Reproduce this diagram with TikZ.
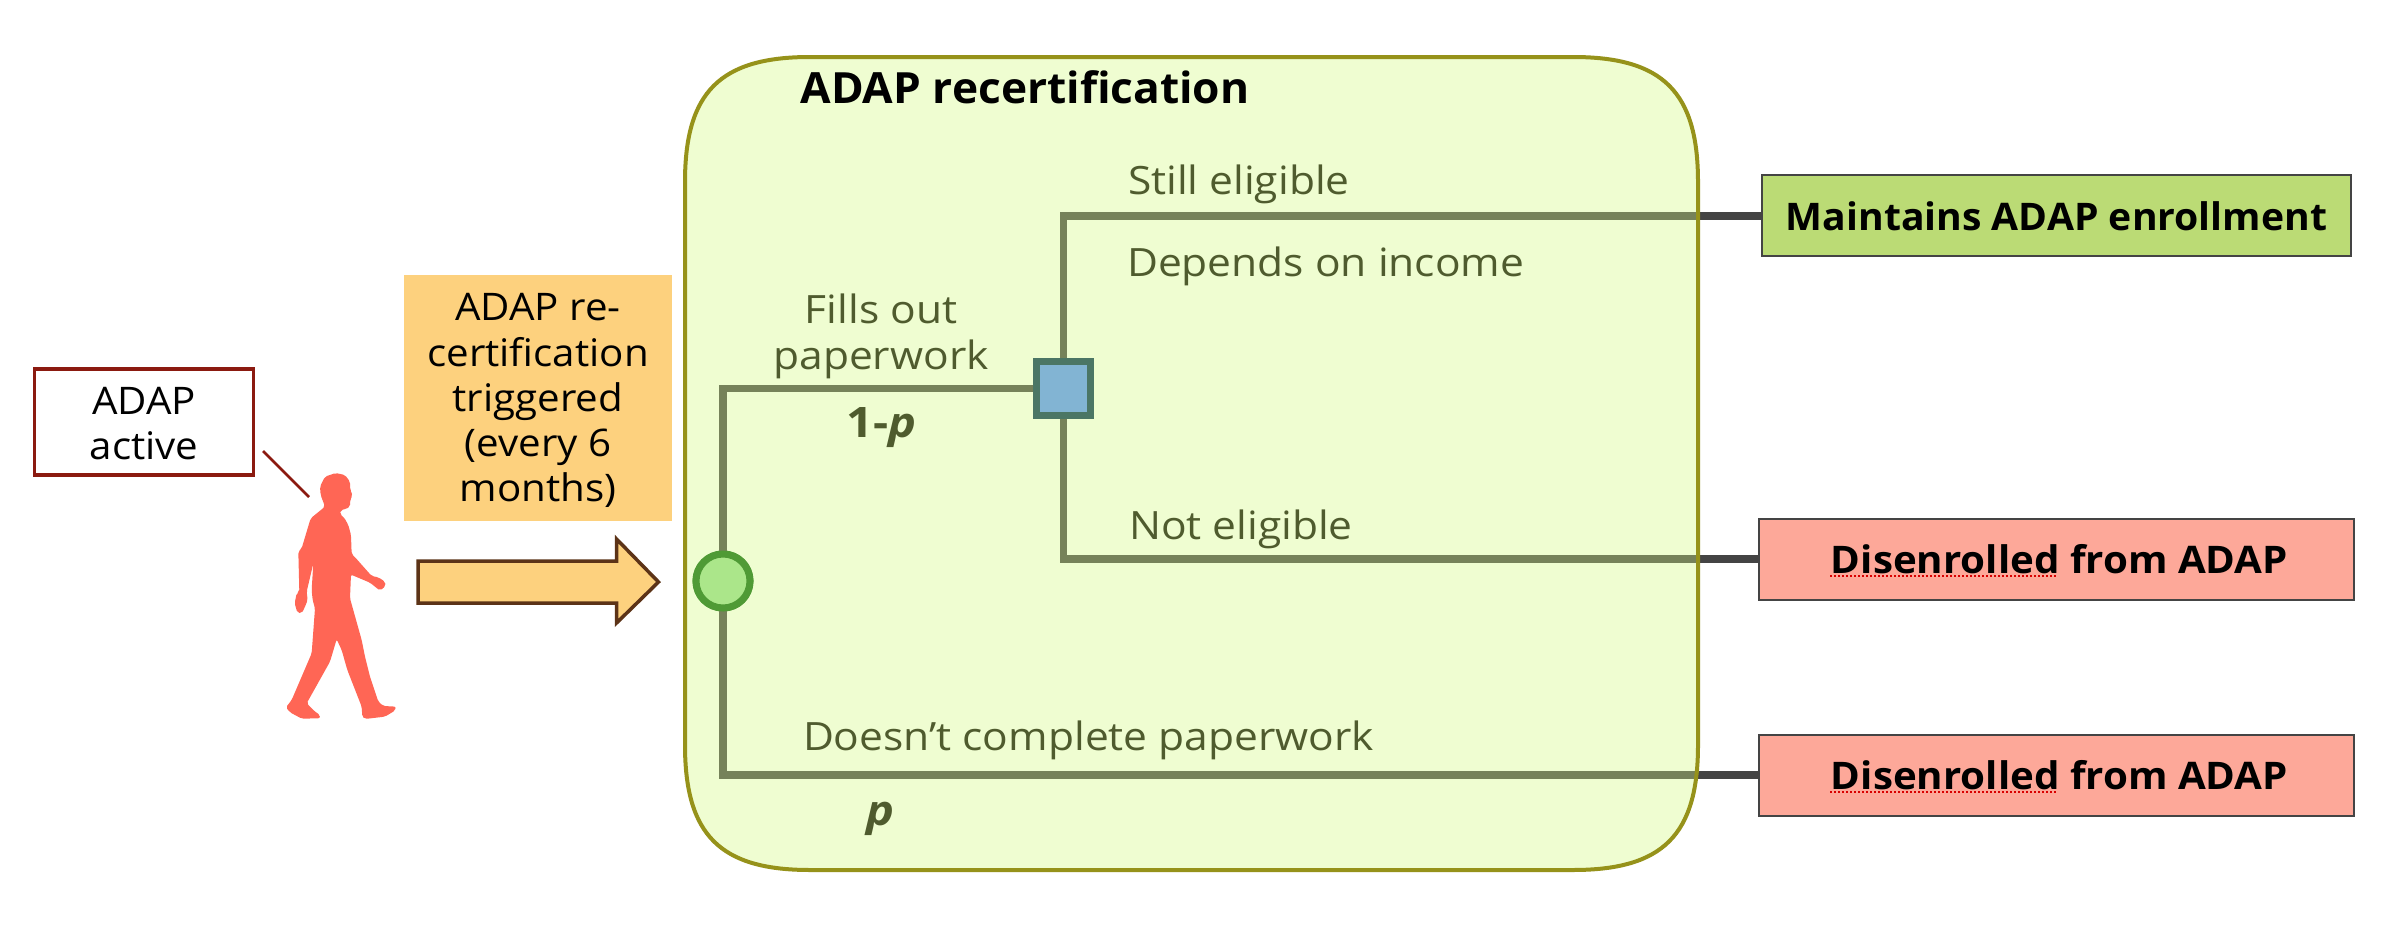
\documentclass[tikz,border=0pt]{standalone}
\usepackage{fontspec}
\setmainfont{Open Sans}
\newfontfamily\treefont[FakeStretch=1.09]{Open Sans}
\newfontfamily\boxfont[FakeStretch=1.06]{Open Sans}
\newfontfamily\headfont[FakeStretch=1.03]{Open Sans}
\newfontfamily\probfont[FakeStretch=1.12]{Open Sans}
\definecolor{panelfill}{HTML}{EFFDD1}
\definecolor{panelrimc}{HTML}{96921A}
\definecolor{treeline}{HTML}{76825A}
\definecolor{treetext}{HTML}{4F5B2E}
\definecolor{darkline}{HTML}{444444}
\definecolor{redrim}{HTML}{8B1A10}
\definecolor{orangefill}{HTML}{FDD17E}
\definecolor{arrowrim}{HTML}{5C3317}
\definecolor{sqrim}{HTML}{4B7665}
\definecolor{sqfill}{HTML}{82B4D3}
\definecolor{circrim}{HTML}{4F9A35}
\definecolor{circfill}{HTML}{ABE68A}
\definecolor{okfill}{HTML}{BBDB75}
\definecolor{badfill}{HTML}{FDA899}
\definecolor{personc}{HTML}{FF6655}
\newcommand{\panelshape}{(685,182) .. controls (685,92) and (720,57) .. (810,57) -- (1573,57) .. controls (1663,57) and (1698,92) .. (1698,182) -- (1698,745) .. controls (1698,835) and (1663,870) .. (1573,870) -- (810,870) .. controls (720,870) and (685,835) .. (685,745) -- cycle}
\tikzset{
  x=1pt,y=-1pt,
  every node/.style={inner sep=0pt,outer sep=0pt},
  lab/.style={anchor=base west,text=treetext,font=\treefont\fontsize{39}{45}\selectfont},
  labc/.style={anchor=base,text=treetext,font=\treefont\fontsize{39}{45}\selectfont},
  prob/.style={anchor=base west,text=treetext,font=\probfont\fontsize{42}{45}\selectfont\bfseries},
  wire/.style={line width=7.5pt,treeline},
  stub/.style={line width=7.5pt,darkline},
  outcome/.style={draw=darkline,line width=2pt,rectangle,text=black,text height=29.5pt,text depth=0pt,minimum height=81pt},
  spell/.style={red!85!black,line width=2pt,dotted},
  chancenode/.style={circle,draw=circrim,fill=circfill,line width=7pt,minimum size=54pt},
  decidenode/.style={rectangle,draw=sqrim,fill=sqfill,line width=7pt,minimum size=54pt},
}
\begin{document}
\begin{tikzpicture}
\useasboundingbox[fill=white] (0,0) rectangle (2386,926);
% panel
\fill[panelfill] \panelshape;
% outcomes
\node[outcome,fill=okfill,minimum width=589pt,font=\headfont\fontsize{38}{45}\selectfont\bfseries] (keep) at (2056.5,215.5) {Maintains ADAP enrollment};
\node[outcome,fill=badfill,minimum width=595pt,font=\boxfont\fontsize{38}{45}\selectfont\bfseries] (out1) at (2056.5,559) {\hspace*{6pt}Disenrolled from ADAP};
\node[outcome,fill=badfill,minimum width=595pt,font=\boxfont\fontsize{38}{45}\selectfont\bfseries] (out2) at (2056.5,775) {\hspace*{6pt}Disenrolled from ADAP};
% chance and decision nodes
\node[chancenode] (chance) at (723,581) {};
\node[decidenode] (decide) at (1063.5,388.5) {};
\coordinate (e1) at (1698,216);
\coordinate (e2) at (1698,559);
\coordinate (e3) at (1698,775);
\draw[stub] (e1) -- (e1 -| keep.west);
\draw[stub] (e2) -- (e2 -| out1.west);
\draw[stub] (e3) -- (e3 -| out2.west);
\draw[wire] (chance.north) |- (decide.west);
\draw[wire] (chance.south) |- (e3);
\draw[wire] (decide.north) |- (e1);
\draw[wire] (decide.south) |- (e2);
\node[chancenode] at (chance) {};
\node[decidenode] at (decide) {};
% panel rim over the wires
\draw[panelrimc,line width=4pt] \panelshape;
% labels
\node[anchor=base west,font=\headfont\fontsize{43}{45}\selectfont\bfseries] (title) at (800.5,103) {ADAP recertification};
\node[lab] (still) at (1128,194) {Still eligible};
\node[lab] (dep) at (1127,276) {Depends on income};
\node[labc] (fills1) at (881,323) {Fills out};
\node[labc] (fills2) at (881,369) {paperwork};
\node[prob] (onep) at (846.5,437) {1-\textit{p}};
\node[lab] (noel) at (1129,539) {Not eligible};
\node[lab] (doesnt) at (803,750) {Doesn’t complete paperwork};
\node[prob,font=\probfont\fontsize{42}{45}\selectfont\bfseries\itshape] (pp) at (866.6,825) {p};
% spelling marks
\coordinate (s1a) at (1830,576); \coordinate (s1b) at (2056,576);
\coordinate (s2a) at (1830,792); \coordinate (s2b) at (2056,792);
\draw[spell] (s1a) -- (s1b);
\draw[spell] (s2a) -- (s2b);
% left part
\node[rectangle,draw=redrim,fill=white,line width=3.5pt,minimum width=219pt,minimum height=106pt,align=center,font=\boxfont\fontsize{38}{45}\selectfont] (active) at (144,422) {\rule{0pt}{31pt}ADAP\\active};
\node[rectangle,fill=orangefill,minimum width=268pt,minimum height=246pt,align=center,font=\boxfont\fontsize{38}{45.25}\selectfont] (trig) at (538,398) {\rule{0pt}{33pt}ADAP re-\\certification\\triggered\\(every 6\\months)};
\draw[arrowrim,fill=orangefill,line width=3.5pt] (418,561) -- (616.5,561) -- (616.5,539) -- (658.5,582) -- (616.5,623) -- (616.5,603) -- (418,603) -- cycle;
\coordinate (ptr) at (263,451);
\coordinate (ptrb) at (309,497);
\draw[redrim,line width=2.5pt] (ptr) -- (ptrb);
% person
\begin{scope}[shift={(270,460)},x=0.3333pt,y=-0.3333pt]
\fill[personc,rounded corners=2pt] (197,39) -- (225,45) -- (240,65) -- (241,90) -- (248,106) -- (241,118) -- (240,140) -- (228,147) -- (212,150) -- (210,163) -- (222,172) -- (235,195) -- (243,225) -- (245,282) -- (258,295) -- (305,348) -- (325,352) -- (345,365) -- (347,378) -- (330,392) -- (300,368) -- (243,344) -- (240,415) -- (275,540) -- (285,590) -- (300,650) -- (325,725) -- (340,738) -- (378,740) -- (375,752) -- (345,770) -- (285,777) -- (277,770) -- (275,740) -- (232,630) -- (215,570) -- (200,538) -- (180,605) -- (110,730) -- (135,755) -- (150,765) -- (150,775) -- (95,776) -- (60,757) -- (48,742) -- (65,720) -- (125,580) -- (135,445) -- (128,420) -- (125,390) -- (130,310) -- (110,395) -- (113,420) -- (103,445) -- (95,460) -- (82,458) -- (74,430) -- (80,400) -- (88,395) -- (85,275) -- (95,265) -- (122,175) -- (165,140) -- (152,105) -- (150,80) -- (165,50) -- cycle;
\end{scope}
\end{tikzpicture}
\end{document}
